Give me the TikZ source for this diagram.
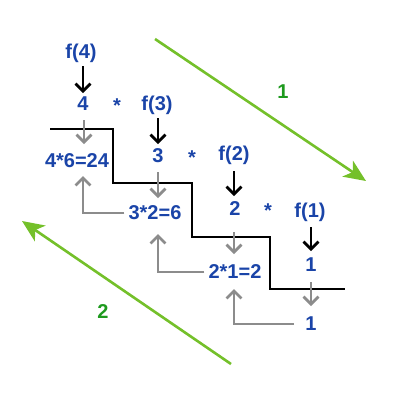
\documentclass[tikz,border=0pt]{standalone}
\usepackage{fontspec}
\setmainfont{Liberation Sans}
\usetikzlibrary{arrows.meta}
\definecolor{tblue}{HTML}{1A44A8}
\definecolor{lgreen}{HTML}{74C02A}
\definecolor{dgreen}{HTML}{1E9A1E}
\definecolor{tgrey}{HTML}{8C8C8C}
\tikzset{
  lbl/.style={text=tblue, font=\fontsize{20}{20}\selectfont\bfseries, inner sep=1pt},
  glbl/.style={text=dgreen, font=\fontsize{20}{20}\selectfont\bfseries, inner sep=1pt},
  blk/.style={draw=black, line width=2.8pt, -{Straight Barb[length=7.5pt,width=15pt,line width=2.8pt]}},
  gry/.style={draw=tgrey, line width=2.8pt, -{Straight Barb[length=7.5pt,width=15pt,line width=2.8pt]}},
  stair/.style={draw=black, line width=2.8pt},
  garrow/.style={draw=lgreen, line width=2.6pt, -{Stealth[length=22pt,width=19pt,inset=6pt]}}
}
\begin{document}
\begin{tikzpicture}[x=1pt,y=-1pt]
\useasboundingbox (0,0) rectangle (403,402);
% top row labels
\node[lbl] (f4) at (81,53) {f(4)};
\node[lbl] (n4) at (83,104) {4};
\node[lbl] (s1) at (117,106) {*};
\node[lbl] (f3) at (157,105) {f(3)};
\node[lbl] (n3) at (158,156) {3};
\node[lbl] (s2) at (192,158) {*};
\node[lbl] (f2) at (234,155) {f(2)};
\node[lbl] (n2) at (235,209) {2};
\node[lbl] (s3) at (268,211) {*};
\node[lbl] (f1) at (310,212) {f(1)};
\node[lbl] (n1) at (311,265) {1};
% results
\node[lbl] (r4) at (77,161) {4*6=24};
\node[lbl] (r3) at (155,213) {3*2=6};
\node[lbl] (r2) at (235,272) {2*1=2};
\node[lbl] (r1) at (311,324) {1};
% green labels
\node[glbl] (g1) at (283,92) {1};
\node[glbl] (g2) at (103,312) {2};
% stair
\draw[stair] (50,129) -- (113,129) -- (113,183) -- (192,183) -- (192,237) -- (270,237) -- (270,289) -- (345,289);
% black call arrows
\coordinate (b4s) at (83,66); \coordinate (b4e) at (83,93);
\coordinate (b3s) at (158,118); \coordinate (b3e) at (158,144);
\coordinate (b2s) at (234,171); \coordinate (b2e) at (234,196);
\coordinate (b1s) at (311,227); \coordinate (b1e) at (311,251);
\draw[blk] (b4s) -- (b4e);
\draw[blk] (b3s) -- (b3e);
\draw[blk] (b2s) -- (b2e);
\draw[blk] (b1s) -- (b1e);
% grey down arrows
\coordinate (d4s) at (84,120); \coordinate (d4e) at (84,144);
\coordinate (d3s) at (158,172); \coordinate (d3e) at (158,198);
\coordinate (d2s) at (234,232); \coordinate (d2e) at (234,254);
\coordinate (d1s) at (311,282); \coordinate (d1e) at (311,306);
\draw[gry] (d4s) -- (d4e);
\draw[gry] (d3s) -- (d3e);
\draw[gry] (d2s) -- (d2e);
\draw[gry] (d1s) -- (d1e);
% grey return arrows
\coordinate (u4) at (83,176);
\coordinate (u3) at (158,234);
\coordinate (u2) at (234,289);
\draw[gry] ([xshift=-3pt]r3.west) -| (u4);
\draw[gry] ([xshift=-3pt]r2.west) -| (u3);
\draw[gry] ([xshift=-10pt]r1.west) -| (u2);
% green arrows
\coordinate (a1s) at (155,39); \coordinate (a1e) at (366,181);
\coordinate (a2s) at (231,364); \coordinate (a2e) at (22,221);
\draw[garrow] (a1s) -- (a1e);
\draw[garrow] (a2s) -- (a2e);
\end{tikzpicture}
\end{document}
